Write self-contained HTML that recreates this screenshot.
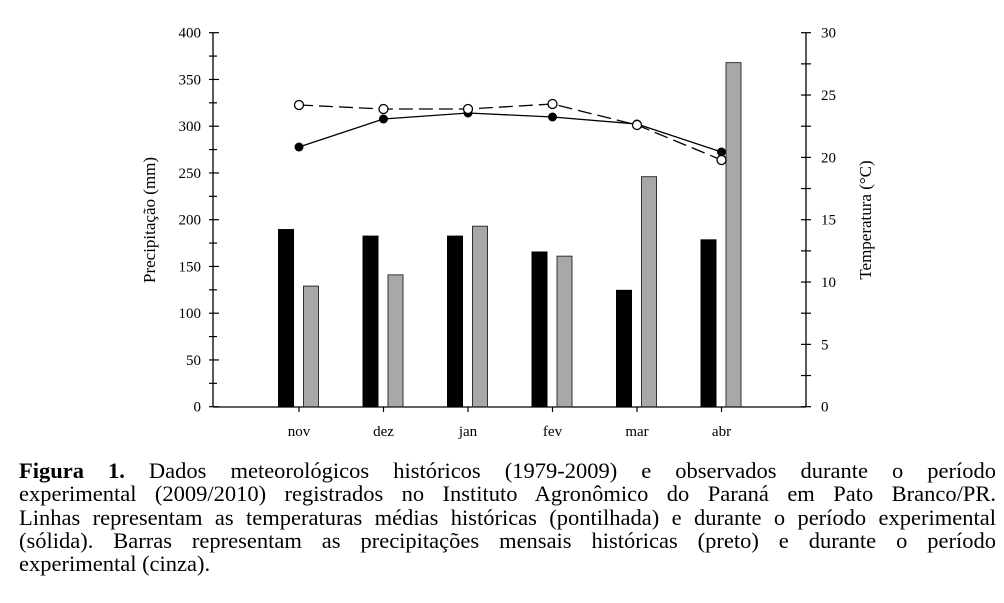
<!DOCTYPE html>
<html><head><meta charset="utf-8"><style>
body{margin:0;background:#fff;width:1004px;height:603px;overflow:hidden;position:relative;font-family:"Liberation Serif",serif;}
svg{position:absolute;left:0;top:0}
.cap{position:absolute;left:19px;top:459px;width:977px;font-size:22.5px;line-height:23.3px;color:#000}
.cap div{text-align:justify;text-align-last:justify;white-space:nowrap;}
.cap div.l{text-align-last:left}
</style></head><body>
<svg width="1004" height="450" font-family="Liberation Serif, serif" font-size="15">
<g stroke="#000" stroke-width="1.3" fill="none">
<line x1="213" y1="33" x2="213" y2="407"/>
<line x1="806" y1="33" x2="806" y2="407"/>
<line x1="213" y1="407" x2="806" y2="407"/>
</g>
<g stroke="#000" stroke-width="1.2" id="lt"></g>
<g id="g"></g>
<text x="0" y="0" transform="translate(155,220) rotate(-90)" text-anchor="middle" font-size="17">Precipitação (mm)</text>
<text x="0" y="0" transform="translate(871,220) rotate(-90)" text-anchor="middle" font-size="17">Temperatura (°C)</text>
</svg>
<script>
var ns="http://www.w3.org/2000/svg",g=document.getElementById("g"),lt=document.getElementById("lt");
function el(t,a,p,txt){var e=document.createElementNS(ns,t);for(var k in a)e.setAttribute(k,a[k]);if(txt)e.textContent=txt;(p||g).appendChild(e);return e;}
var y0=406.7,py=374/400;
for(var v=0;v<=400;v+=25){var y=y0-v*py;el("line",{x1:213,x2:(v%50?217:219),y1:y,y2:y},lt);el("line",{x1:209,x2:213,y1:y,y2:y},lt);
 if(v%50==0)el("text",{x:201,y:y+5,"text-anchor":"end"},g,""+v);}
for(var t=0;t<=30;t+=2.5){var y=y0-t*374/30;el("line",{x1:801,x2:811,y1:y,y2:y},lt);if(t%5==0)el("text",{x:821,y:y+5},g,""+t);}
var xs=[299,383.5,468,552.5,637,721.5],m=["nov","dez","jan","fev","mar","abr"];
var bk=[190,183,183,166,125,179],gr=[129,141,193,161,246,368];
for(var i=0;i<6;i++){var x=xs[i];el("line",{x1:x,x2:x,y1:407,y2:412},lt);
 el("text",{x:x,y:436,"text-anchor":"middle"},g,m[i]);
 el("rect",{x:x-21,y:y0-bk[i]*py,width:16,height:bk[i]*py,fill:"#000"});
 el("rect",{x:x+4.5,y:y0-gr[i]*py,width:15,height:gr[i]*py,fill:"#a8a8a8",stroke:"#333","stroke-width":1});}
var op=[105,109,109,104,125,160],fl=[147,119,113,117,124,152];
function pts(a){return a.map(function(y,i){return xs[i]+","+y}).join(" ");}
el("polyline",{points:pts(op),fill:"none",stroke:"#000","stroke-width":1.3,"stroke-dasharray":"14,6"});
el("polyline",{points:pts(fl),fill:"none",stroke:"#000","stroke-width":1.3});
for(var i=0;i<6;i++){el("circle",{cx:xs[i],cy:fl[i],r:4.5,fill:"#000"});}
for(var i=0;i<6;i++){el("circle",{cx:xs[i],cy:op[i],r:4.5,fill:"#fff",stroke:"#000","stroke-width":1.3});}
</script>
<div class="cap">
<div><b>Figura 1.</b> Dados meteorológicos históricos (1979-2009) e observados durante o período</div>
<div>experimental (2009/2010) registrados no Instituto Agronômico do Paraná em Pato Branco/PR.</div>
<div>Linhas representam as temperaturas médias históricas (pontilhada) e durante o período experimental</div>
<div>(sólida). Barras representam as precipitações mensais históricas (preto) e durante o período</div>
<div class="l">experimental (cinza).</div>
</div>
</body></html>
